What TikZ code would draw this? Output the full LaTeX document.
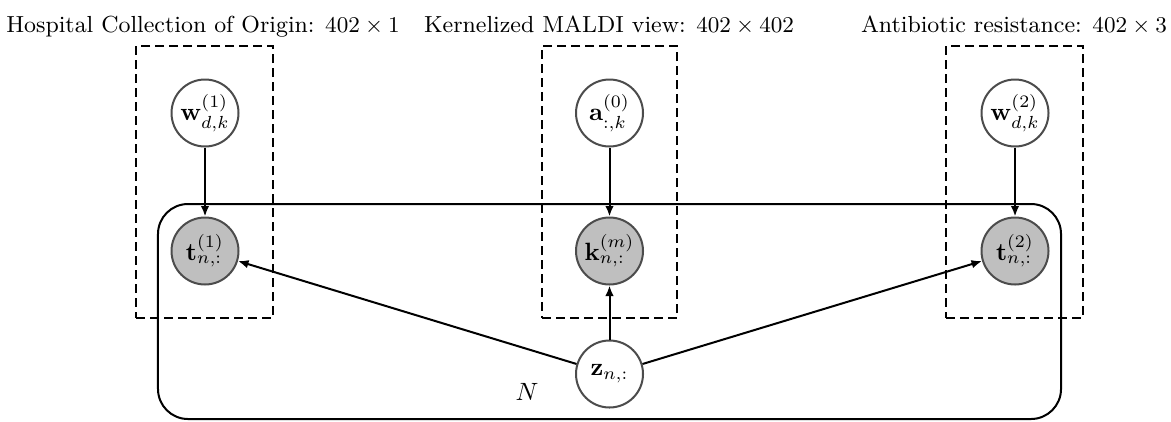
\documentclass[tikz,border=0pt]{standalone}
\usepackage{amsmath}
\usetikzlibrary{arrows.meta}
\begin{document}
\begin{tikzpicture}[x=0.4pt, y=-0.4pt,
  latentnode/.style={circle, draw=black!70, line width=0.8pt, fill=white,
    minimum size=26.8pt, inner sep=0pt},
  obsnode/.style={latentnode, fill=black!25},
  viewbox/.style={rectangle, draw=black, line width=0.8pt,
    dash pattern=on 3.6pt off 2pt, minimum width=54.8pt, minimum height=108.8pt,
    inner sep=0pt},
  platebox/.style={rectangle, draw=black, line width=0.8pt, rounded corners=12pt,
    minimum width=361.2pt, minimum height=86pt, inner sep=0pt},
  edge/.style={-{Latex[length=4.2pt,width=3.4pt]}, line width=0.8pt},
  viewlabel/.style={anchor=base, inner sep=0pt, font=\fontsize{9.3pt}{11pt}\selectfont}
]
\useasboundingbox (0,0) rectangle (1171,421);

% plates for the three views
\node[viewbox] (box1) at (204.5,182) {};
\node[viewbox, minimum width=54pt] (box2) at (609.5,182) {};
\node[viewbox] (box3) at (1014.5,182) {};

% plate over the N samples
\node[platebox] (plate) at (609.5,311.5) {};
\node (nlabel) at (527,392) {$N$};

% view titles
\node[viewlabel] (lab1) at (203,32) {Hospital Collection of Origin: $402 \times 1$};
\node[viewlabel] (lab2) at (609,32) {Kernelized MALDI view: $402 \times 402$};
\node[viewlabel] (lab3) at (1014,32) {Antibiotic resistance: $402 \times 3$};

% variables
\node[latentnode] (w1) at (205,113) {$\mathbf{w}^{(1)}_{d,k}$};
\node[latentnode] (a0) at (609.5,113) {$\mathbf{a}^{(0)}_{:,k}$};
\node[latentnode] (w2) at (1015,113) {$\mathbf{w}^{(2)}_{d,k}$};
\node[obsnode] (t1) at (205,251) {$\mathbf{t}^{(1)}_{n,:}$};
\node[obsnode] (k) at (609.5,251) {$\mathbf{k}^{(m)}_{n,:}$};
\node[obsnode] (t2) at (1015,251) {$\mathbf{t}^{(2)}_{n,:}$};
\node[latentnode] (z) at (609.5,374) {$\mathbf{z}_{n,:}$};

% dependencies
\draw[edge] (w1) -- (t1);
\draw[edge] (a0) -- (k);
\draw[edge] (w2) -- (t2);
\draw[edge] (z) -- (t1);
\draw[edge] (z) -- (k);
\draw[edge] (z) -- (t2);
\end{tikzpicture}
\end{document}
